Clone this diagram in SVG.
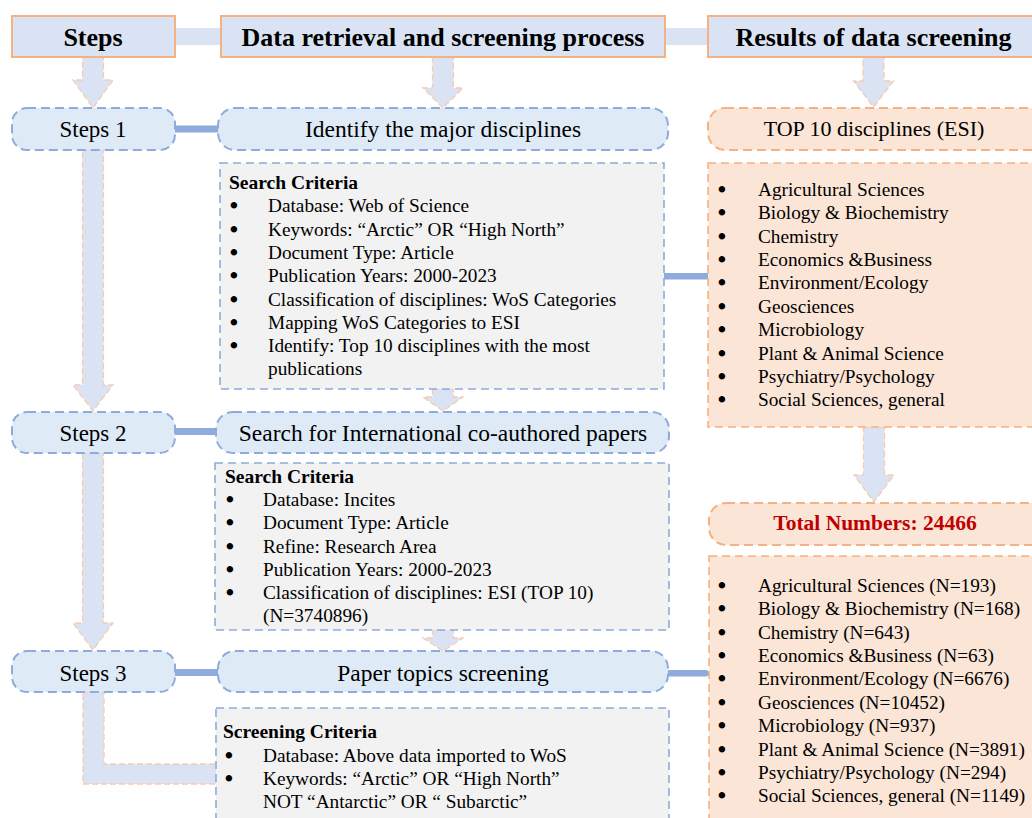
<svg xmlns="http://www.w3.org/2000/svg" width="1032" height="818" viewBox="0 0 1032 818">
  <style>
    text { font-family: "Liberation Serif", "Times New Roman", serif; fill: #000; }
    .hdr { fill: #dae3f3; stroke: #f4b183; stroke-width: 2; }
    .hdr-t { font-size: 26px; font-weight: bold; text-anchor: middle; }
    .pill { fill: #deebf7; stroke: #8faadc; stroke-width: 2; stroke-dasharray: 9 5; }
    .pill-t { font-size: 23.5px; text-anchor: middle; }
    .step-t { font-size: 23px; text-anchor: middle; }
    .gbox { fill: #f2f2f2; stroke: #8faadc; stroke-width: 1.6; stroke-dasharray: 8 5; }
    .obox { fill: #fbe5d6; stroke: #f4b183; stroke-width: 1.6; stroke-dasharray: 8 5; }
    .opill { fill: #fbe5d6; stroke: #f4b183; stroke-width: 2; stroke-dasharray: 9 5; }
    .li { font-size: 19.3px; }
    .bul { font-size: 19.3px; text-anchor: middle; stroke: #000; stroke-width: 1.8; }
    .ttl { font-size: 19.5px; font-weight: bold; }
    .arrow { fill: #dae3f3; stroke: #f8cbad; stroke-width: 1.3; stroke-dasharray: 6 3; }
    .hbar { fill: #dae3f3; }
    .lbar { fill: #8faadc; }
  </style>

  <!-- connectors -->
  <g id="connectors">
    <!-- header links -->
    <rect class="hbar" x="175" y="28" width="46" height="17"/>
    <rect class="hbar" x="665" y="28" width="43" height="17"/>
    <!-- step to process links -->
    <rect class="lbar" x="175" y="125.5" width="44" height="7"/>
    <rect class="lbar" x="175" y="428" width="44" height="7"/>
    <rect class="lbar" x="175" y="669" width="44" height="7"/>
    <!-- process to results links -->
    <rect class="lbar" x="664" y="273" width="45" height="6.5"/>
    <rect class="lbar" x="666" y="670" width="43" height="6.5" rx="3"/>
    <!-- block arrows -->
    <path class="arrow" d="M82.5,57 L103.5,57 L103.5,80 L113,80 L93,108 L73,80 L82.5,80 Z"/>
    <path class="arrow" d="M432.5,57 L453.5,57 L453.5,88 L463,88 L443,108 L423,88 L432.5,88 Z"/>
    <path class="arrow" d="M863,57 L884,57 L884,81 L893.5,81 L873.5,107 L853.5,81 L863,81 Z"/>
    <path class="arrow" d="M82.5,150 L103.5,150 L103.5,385 L113,385 L93,411 L73,385 L82.5,385 Z"/>
    <path class="arrow" d="M82.5,453 L103.5,453 L103.5,623 L113,623 L93,650 L73,623 L82.5,623 Z"/>
    <path class="arrow" d="M432.5,389 L453.5,389 L453.5,397 L463,397 L443,411 L423,397 L432.5,397 Z"/>
    <path class="arrow" d="M432.5,630 L453.5,630 L453.5,638 L463,638 L443,651 L423,638 L432.5,638 Z"/>
    <path class="arrow" d="M863.5,427 L884.5,427 L884.5,475 L894,475 L874,502 L854,475 L863.5,475 Z"/>
    <path class="arrow" d="M83,692 L104,692 L104,764 L220,764 L220,784 L83,784 Z"/>
  </g>

  <!-- column headers -->
  <g id="hdr-steps">
    <rect class="hdr" x="12" y="16" width="163" height="41"/>
    <text class="hdr-t" x="93" y="45.5">Steps</text>
  </g>
  <g id="hdr-process">
    <rect class="hdr" x="221" y="16" width="444" height="41"/>
    <text class="hdr-t" x="443" y="45.5">Data retrieval and screening process</text>
  </g>
  <g id="hdr-results">
    <rect class="hdr" x="708" y="16" width="340" height="41"/>
    <text class="hdr-t" x="873.5" y="45.5">Results of data screening</text>
  </g>

  <!-- step pills -->
  <g id="step1">
    <rect class="pill" x="12" y="108" width="163" height="42" rx="15"/>
    <text class="step-t" x="93" y="137">Steps 1</text>
  </g>
  <g id="step2">
    <rect class="pill" x="12" y="412" width="163" height="41" rx="15"/>
    <text class="step-t" x="93" y="440.5">Steps 2</text>
  </g>
  <g id="step3">
    <rect class="pill" x="12" y="651" width="163" height="41" rx="15"/>
    <text class="step-t" x="93" y="680.5">Steps 3</text>
  </g>

  <!-- process pills -->
  <g id="proc1">
    <rect class="pill" x="218" y="108" width="450" height="42" rx="17"/>
    <text class="pill-t" x="443" y="137">Identify the major disciplines</text>
  </g>
  <g id="proc2">
    <rect class="pill" x="216" y="412" width="453" height="41" rx="17"/>
    <text class="pill-t" x="443" y="440.5">Search for International co-authored papers</text>
  </g>
  <g id="proc3">
    <rect class="pill" x="218" y="651" width="450" height="41" rx="17"/>
    <text class="pill-t" x="443" y="680.5">Paper topics screening</text>
  </g>

  <!-- criteria boxes -->
  <g id="criteria1">
    <rect class="gbox" x="220" y="163" width="444" height="226"/>
    <text class="ttl" x="229" y="189">Search Criteria</text>
    <text class="bul" x="234" y="212.3">•</text>
    <text class="bul" x="234" y="235.6">•</text>
    <text class="bul" x="234" y="258.9">•</text>
    <text class="bul" x="234" y="282.2">•</text>
    <text class="bul" x="234" y="305.5">•</text>
    <text class="bul" x="234" y="328.8">•</text>
    <text class="bul" x="234" y="352.1">•</text>
    <text class="li" x="268" y="212.3">Database: Web of Science</text>
    <text class="li" x="268" y="235.6">Keywords: “Arctic” OR “High North”</text>
    <text class="li" x="268" y="258.9">Document Type: Article</text>
    <text class="li" x="268" y="282.2">Publication Years: 2000-2023</text>
    <text class="li" x="268" y="305.5">Classification of disciplines: WoS Categories</text>
    <text class="li" x="268" y="328.8">Mapping WoS Categories to ESI</text>
    <text class="li" x="268" y="352.1">Identify: Top 10 disciplines with the most</text>
    <text class="li" x="268" y="375.4">publications</text>
  </g>

  <g id="criteria2">
    <rect class="gbox" x="215" y="463" width="454" height="167"/>
    <text class="ttl" x="225" y="483">Search Criteria</text>
    <text class="bul" x="230" y="506.2">•</text>
    <text class="bul" x="230" y="529.4">•</text>
    <text class="bul" x="230" y="552.6">•</text>
    <text class="bul" x="230" y="575.8">•</text>
    <text class="bul" x="230" y="599">•</text>
    <text class="li" x="263" y="506.2">Database: Incites</text>
    <text class="li" x="263" y="529.4">Document Type: Article</text>
    <text class="li" x="263" y="552.6">Refine: Research Area</text>
    <text class="li" x="263" y="575.8">Publication Years: 2000-2023</text>
    <text class="li" x="263" y="599">Classification of disciplines: ESI (TOP 10)</text>
    <text class="li" x="263" y="622.2">(N=3740896)</text>
  </g>

  <g id="criteria3">
    <rect class="gbox" x="216" y="708" width="453" height="130"/>
    <text class="ttl" x="223" y="738">Screening Criteria</text>
    <text class="bul" x="229" y="761.5">•</text>
    <text class="bul" x="229" y="785">•</text>
    <text class="li" x="263" y="761.5">Database: Above data imported to WoS</text>
    <text class="li" x="263" y="785">Keywords: “Arctic” OR “High North”</text>
    <text class="li" x="263" y="808">NOT “Antarctic” OR “ Subarctic”</text>
  </g>

  <!-- results column -->
  <g id="res-top10">
    <rect class="opill" x="708" y="108" width="360" height="42" rx="17"/>
    <text x="874" y="135.5" style="font-size:22px;text-anchor:middle">TOP 10 disciplines (ESI)</text>
  </g>
  <g id="res-list1">
    <rect class="obox" x="708" y="163" width="350" height="264"/>
    <text class="bul" x="722" y="195.7">•</text>
    <text class="bul" x="722" y="219.1">•</text>
    <text class="bul" x="722" y="242.5">•</text>
    <text class="bul" x="722" y="265.9">•</text>
    <text class="bul" x="722" y="289.3">•</text>
    <text class="bul" x="722" y="312.7">•</text>
    <text class="bul" x="722" y="336.1">•</text>
    <text class="bul" x="722" y="359.5">•</text>
    <text class="bul" x="722" y="382.9">•</text>
    <text class="bul" x="722" y="406.3">•</text>
    <text class="li" x="758" y="195.7">Agricultural Sciences</text>
    <text class="li" x="758" y="219.1">Biology &amp; Biochemistry</text>
    <text class="li" x="758" y="242.5">Chemistry</text>
    <text class="li" x="758" y="265.9">Economics &amp;Business</text>
    <text class="li" x="758" y="289.3">Environment/Ecology</text>
    <text class="li" x="758" y="312.7">Geosciences</text>
    <text class="li" x="758" y="336.1">Microbiology</text>
    <text class="li" x="758" y="359.5">Plant &amp; Animal Science</text>
    <text class="li" x="758" y="382.9">Psychiatry/Psychology</text>
    <text class="li" x="758" y="406.3">Social Sciences, general</text>
  </g>
  <g id="res-total">
    <rect class="opill" x="709" y="503" width="360" height="42" rx="17"/>
    <text x="875" y="530" style="font-size:21.5px;font-weight:bold;text-anchor:middle;fill:#c00000">Total Numbers: 24466</text>
  </g>
  <g id="res-list2">
    <rect class="obox" x="709" y="556" width="350" height="290"/>
    <text class="bul" x="722" y="591.7">•</text>
    <text class="bul" x="722" y="615.1">•</text>
    <text class="bul" x="722" y="638.5">•</text>
    <text class="bul" x="722" y="661.9">•</text>
    <text class="bul" x="722" y="685.3">•</text>
    <text class="bul" x="722" y="708.7">•</text>
    <text class="bul" x="722" y="732.1">•</text>
    <text class="bul" x="722" y="755.5">•</text>
    <text class="bul" x="722" y="778.9">•</text>
    <text class="bul" x="722" y="802.3">•</text>
    <text class="li" x="758" y="591.7">Agricultural Sciences (N=193)</text>
    <text class="li" x="758" y="615.1">Biology &amp; Biochemistry (N=168)</text>
    <text class="li" x="758" y="638.5">Chemistry (N=643)</text>
    <text class="li" x="758" y="661.9">Economics &amp;Business (N=63)</text>
    <text class="li" x="758" y="685.3">Environment/Ecology (N=6676)</text>
    <text class="li" x="758" y="708.7">Geosciences (N=10452)</text>
    <text class="li" x="758" y="732.1">Microbiology (N=937)</text>
    <text class="li" x="758" y="755.5">Plant &amp; Animal Science (N=3891)</text>
    <text class="li" x="758" y="778.9">Psychiatry/Psychology (N=294)</text>
    <text class="li" x="758" y="802.3">Social Sciences, general (N=1149)</text>
  </g>
</svg>
